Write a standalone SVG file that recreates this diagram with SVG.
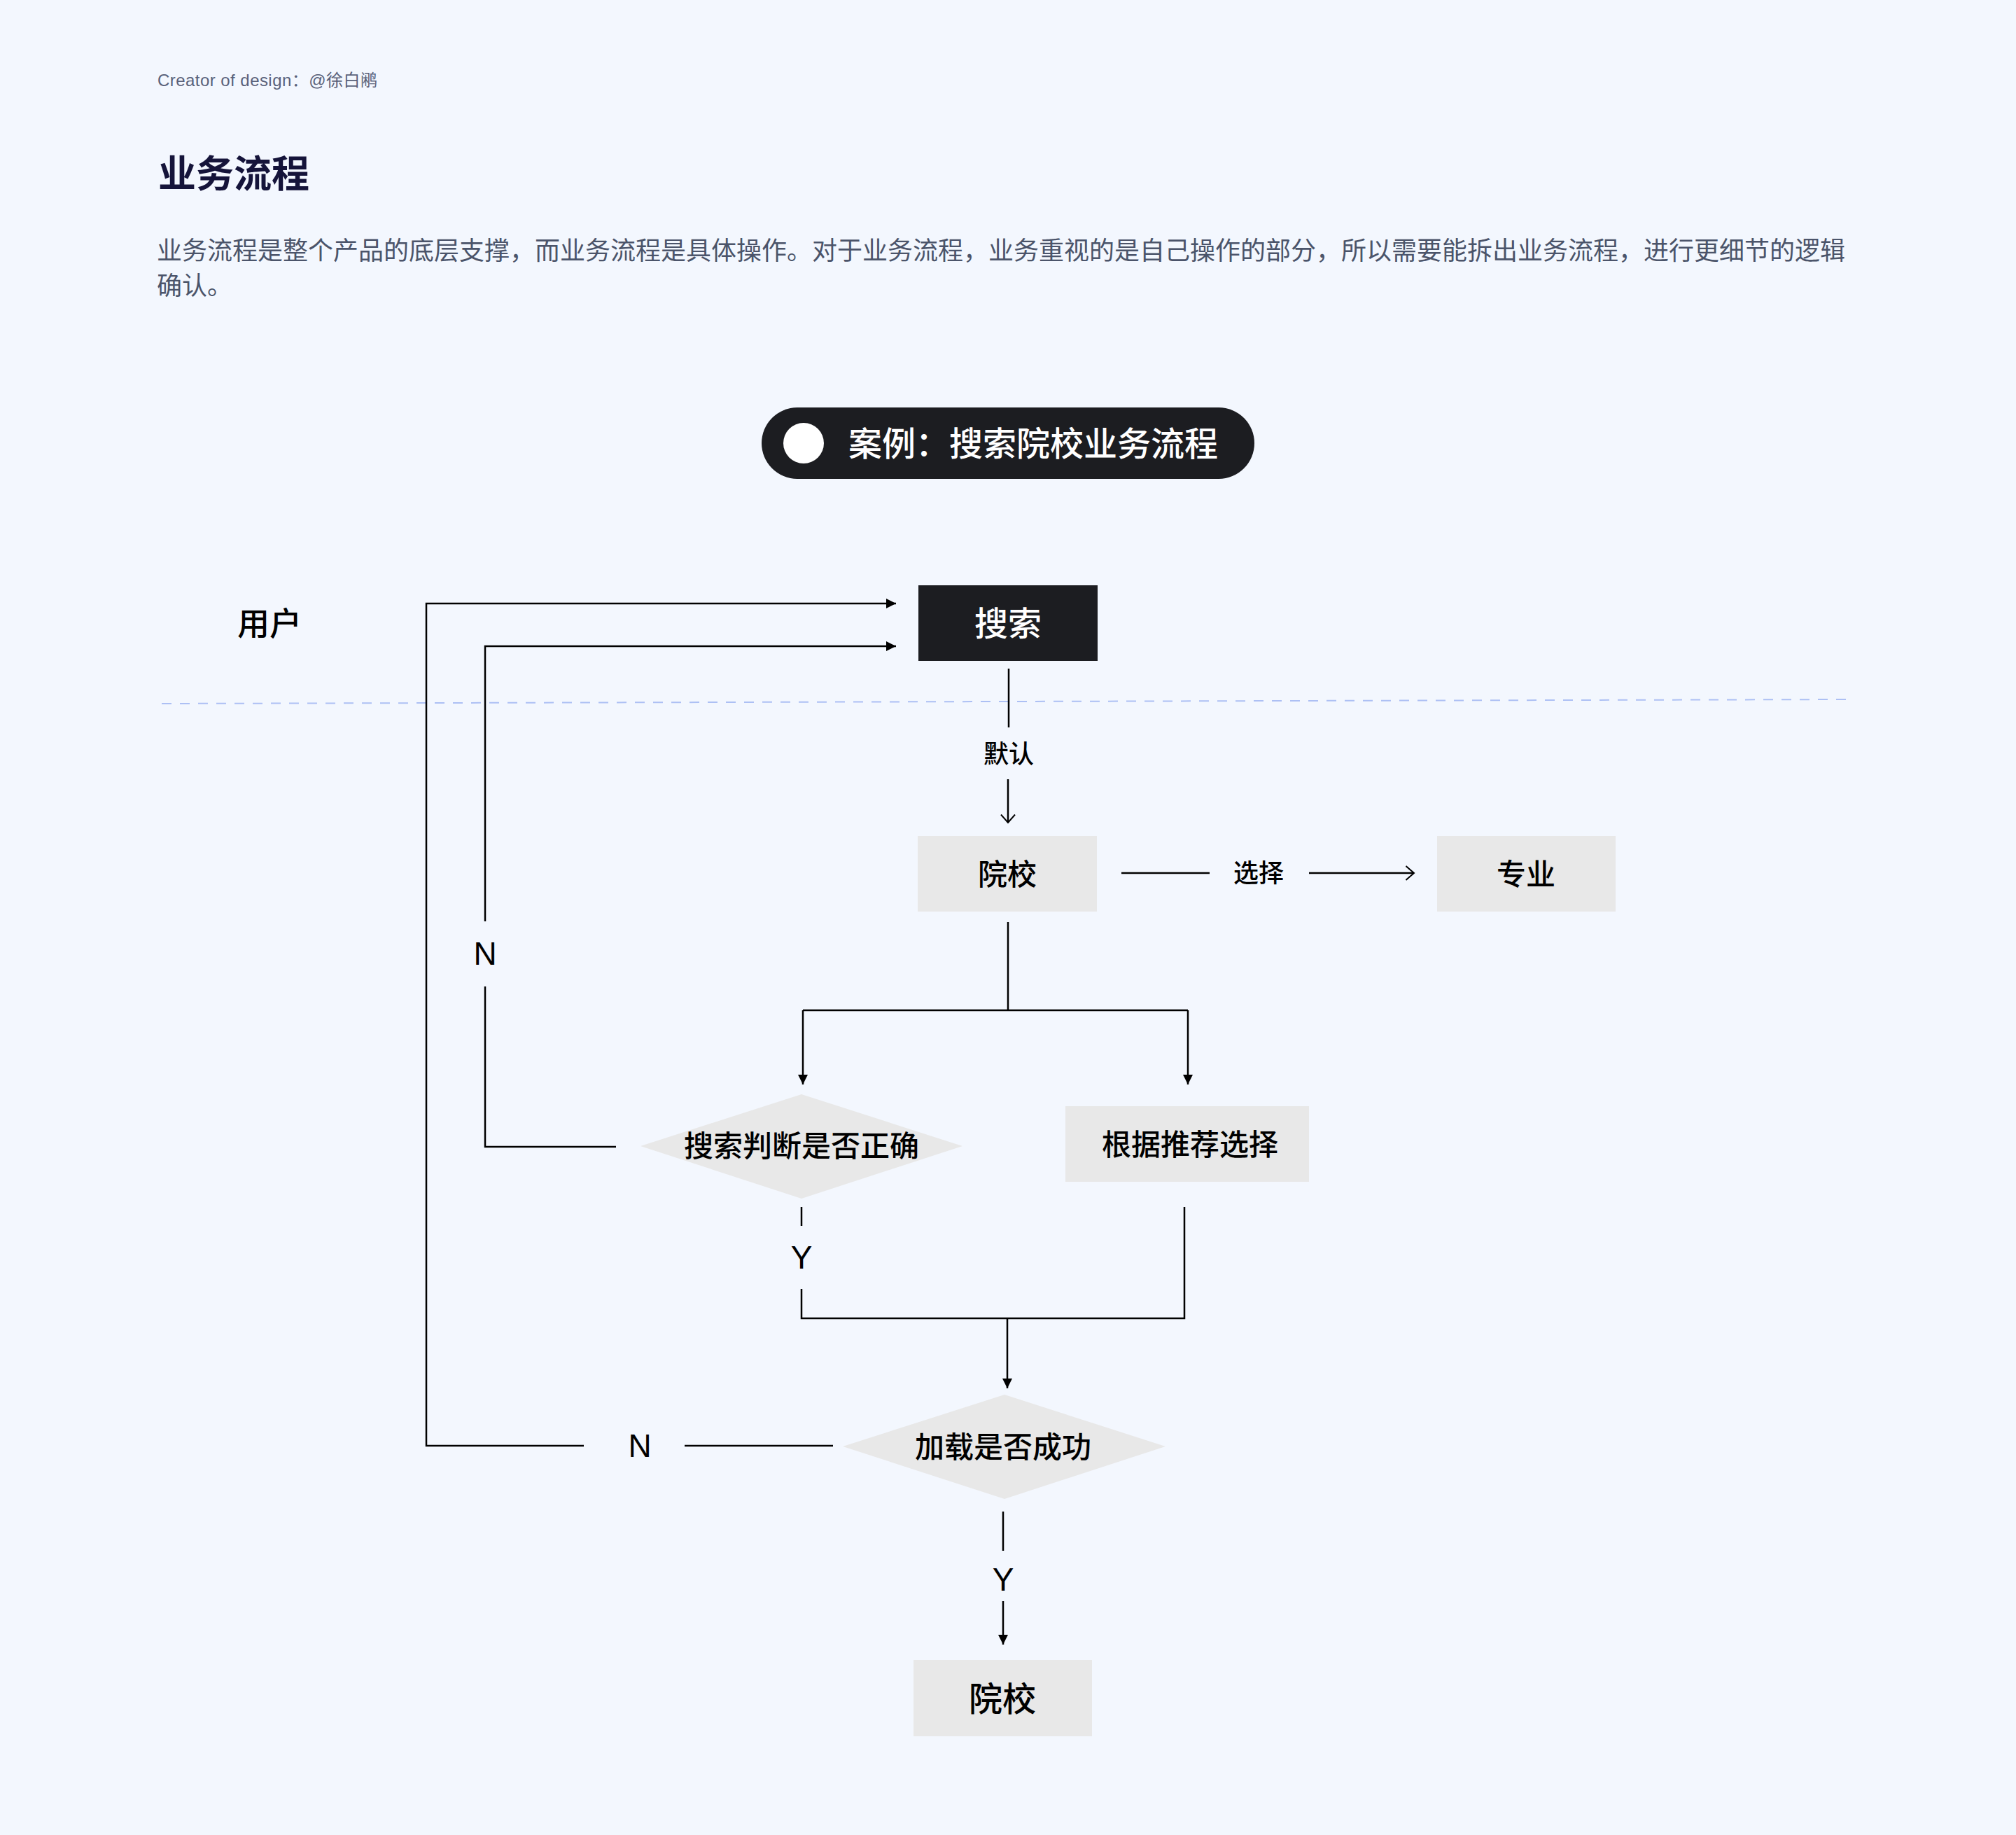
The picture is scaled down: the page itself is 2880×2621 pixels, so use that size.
<svg xmlns="http://www.w3.org/2000/svg" width="2880" height="2621" viewBox="0 0 2880 2621">
<defs>
<style>
.cjk{font-family:"Noto Sans CJK SC","Noto Sans",sans-serif;}
.lat{font-family:"Liberation Sans","Noto Sans CJK SC",sans-serif;}
.ln{fill:none;stroke:#000;stroke-width:2.5;}
.box{fill:#e8e8e8;}
.lbl{font-family:"Noto Sans CJK SC",sans-serif;font-size:42px;font-weight:500;fill:#000;text-anchor:middle;dominant-baseline:central;}
.yn{font-family:"Liberation Sans","Noto Sans",sans-serif;font-size:46px;fill:#000;text-anchor:middle;dominant-baseline:central;}
.edge{font-family:"Noto Sans CJK SC",sans-serif;font-size:36px;font-weight:500;fill:#000;text-anchor:middle;dominant-baseline:central;}
</style>
<marker id="tri" viewBox="0 0 14 14" refX="14" refY="7" markerWidth="14" markerHeight="14" markerUnits="userSpaceOnUse" orient="auto">
<path d="M0,0 L14,7 L0,14 z" fill="#000"/>
</marker>
<marker id="chev" viewBox="0 0 14 24" refX="12.5" refY="12" markerWidth="14" markerHeight="24" markerUnits="userSpaceOnUse" orient="auto">
<path d="M1,2 L12.5,12 L1,22" fill="none" stroke="#000" stroke-width="2"/>
</marker>
</defs>
<rect x="0" y="0" width="2880" height="2621" fill="#f3f7fe"/>

<g id="header">
<text class="lat" x="225" y="123" font-size="24" letter-spacing="0.45" fill="#59617a">Creator of design：@徐白鹇</text>
<text class="cjk" x="226" y="268" font-size="54" font-weight="700" fill="#15143a">业务流程</text>
<text class="cjk" x="224" y="371" font-size="36" fill="#4b546a">业务流程是整个产品的底层支撑，而业务流程是具体操作。对于业务流程，业务重视的是自己操作的部分，所以需要能拆出业务流程，进行更细节的逻辑</text>
<text class="cjk" x="224" y="421" font-size="36" fill="#4b546a">确认。</text>
</g>

<g id="case-title">
<rect x="1088" y="582" width="704" height="102" rx="51" fill="#1c1d21"/>
<circle cx="1148" cy="633" r="29" fill="#ffffff"/>
<text class="cjk" x="1212" y="630" font-size="48" font-weight="500" fill="#ffffff" dominant-baseline="central">案例：搜索院校业务流程</text>
</g>

<g id="lane-user">
<text class="cjk" x="385" y="887" font-size="46" font-weight="500" fill="#000" text-anchor="middle" dominant-baseline="central">用户</text>
</g>

<line id="lane-divider" x1="231" y1="1005" x2="2645" y2="999" stroke="#adc0f4" stroke-width="2" stroke-dasharray="14 12"/>

<g id="connectors">
<path class="ln" d="M1190,2065 H978"/>
<path class="ln" d="M834,2065 H609 V862 H1280" marker-end="url(#tri)"/>
<path class="ln" d="M880,1638 H693 V1409"/>
<path class="ln" d="M693,1316 V923 H1280" marker-end="url(#tri)"/>
<path class="ln" d="M1441,955 V1039" stroke-width="2"/>
<path class="ln" d="M1440,1113 V1175" stroke-width="2" marker-end="url(#chev)"/>
<path class="ln" d="M1602,1247 H1728"/>
<path class="ln" d="M1870,1247 H2020" marker-end="url(#chev)"/>
<path class="ln" d="M1440,1317 V1443"/>
<path class="ln" d="M1147,1443 H1697"/>
<path class="ln" d="M1147,1443 V1549" marker-end="url(#tri)"/>
<path class="ln" d="M1697,1443 V1549" marker-end="url(#tri)"/>
<path class="ln" d="M1145,1724 V1751" stroke-width="2"/>
<path class="ln" d="M1145,1841 V1883 H1692 V1724"/>
<path class="ln" d="M1439,1883 V1983" marker-end="url(#tri)"/>
<path class="ln" d="M1433,2159 V2215" stroke-width="2"/>
<path class="ln" d="M1433,2287 V2349" stroke-width="2" marker-end="url(#tri)"/>
<text class="edge" x="1441" y="1074">默认</text>
<text class="edge" x="1798" y="1244">选择</text>
<text class="yn" x="693" y="1362">N</text>
<text class="yn" x="914" y="2065">N</text>
<text class="yn" x="1145" y="1796">Y</text>
<text class="yn" x="1433" y="2256">Y</text>
</g>

<g id="node-search">
<rect x="1312" y="836" width="256" height="108" fill="#1c1d21"/>
<text class="lbl" x="1440" y="887" style="fill:#ffffff;font-size:48px">搜索</text>
</g>

<g id="node-school">
<rect class="box" x="1311" y="1194" width="256" height="108"/>
<text class="lbl" x="1439" y="1245">院校</text>
</g>

<g id="node-major">
<rect class="box" x="2053" y="1194" width="255" height="108"/>
<text class="lbl" x="2180" y="1245">专业</text>
</g>

<g id="node-check-search">
<polygon class="box" points="915,1637 1145,1563 1375,1637 1145,1712"/>
<text class="lbl" x="1145" y="1633">搜索判断是否正确</text>
</g>

<g id="node-recommend">
<rect class="box" x="1522" y="1580" width="348" height="108"/>
<text class="lbl" x="1700" y="1631">根据推荐选择</text>
</g>

<g id="node-check-load">
<polygon class="box" points="1204,2066 1435,1992 1665,2066 1435,2141"/>
<text class="lbl" x="1433" y="2063">加载是否成功</text>
</g>

<g id="node-school-result">
<rect class="box" x="1305" y="2371" width="255" height="109"/>
<text class="lbl" x="1432" y="2423" style="font-size:48px">院校</text>
</g>
</svg>
